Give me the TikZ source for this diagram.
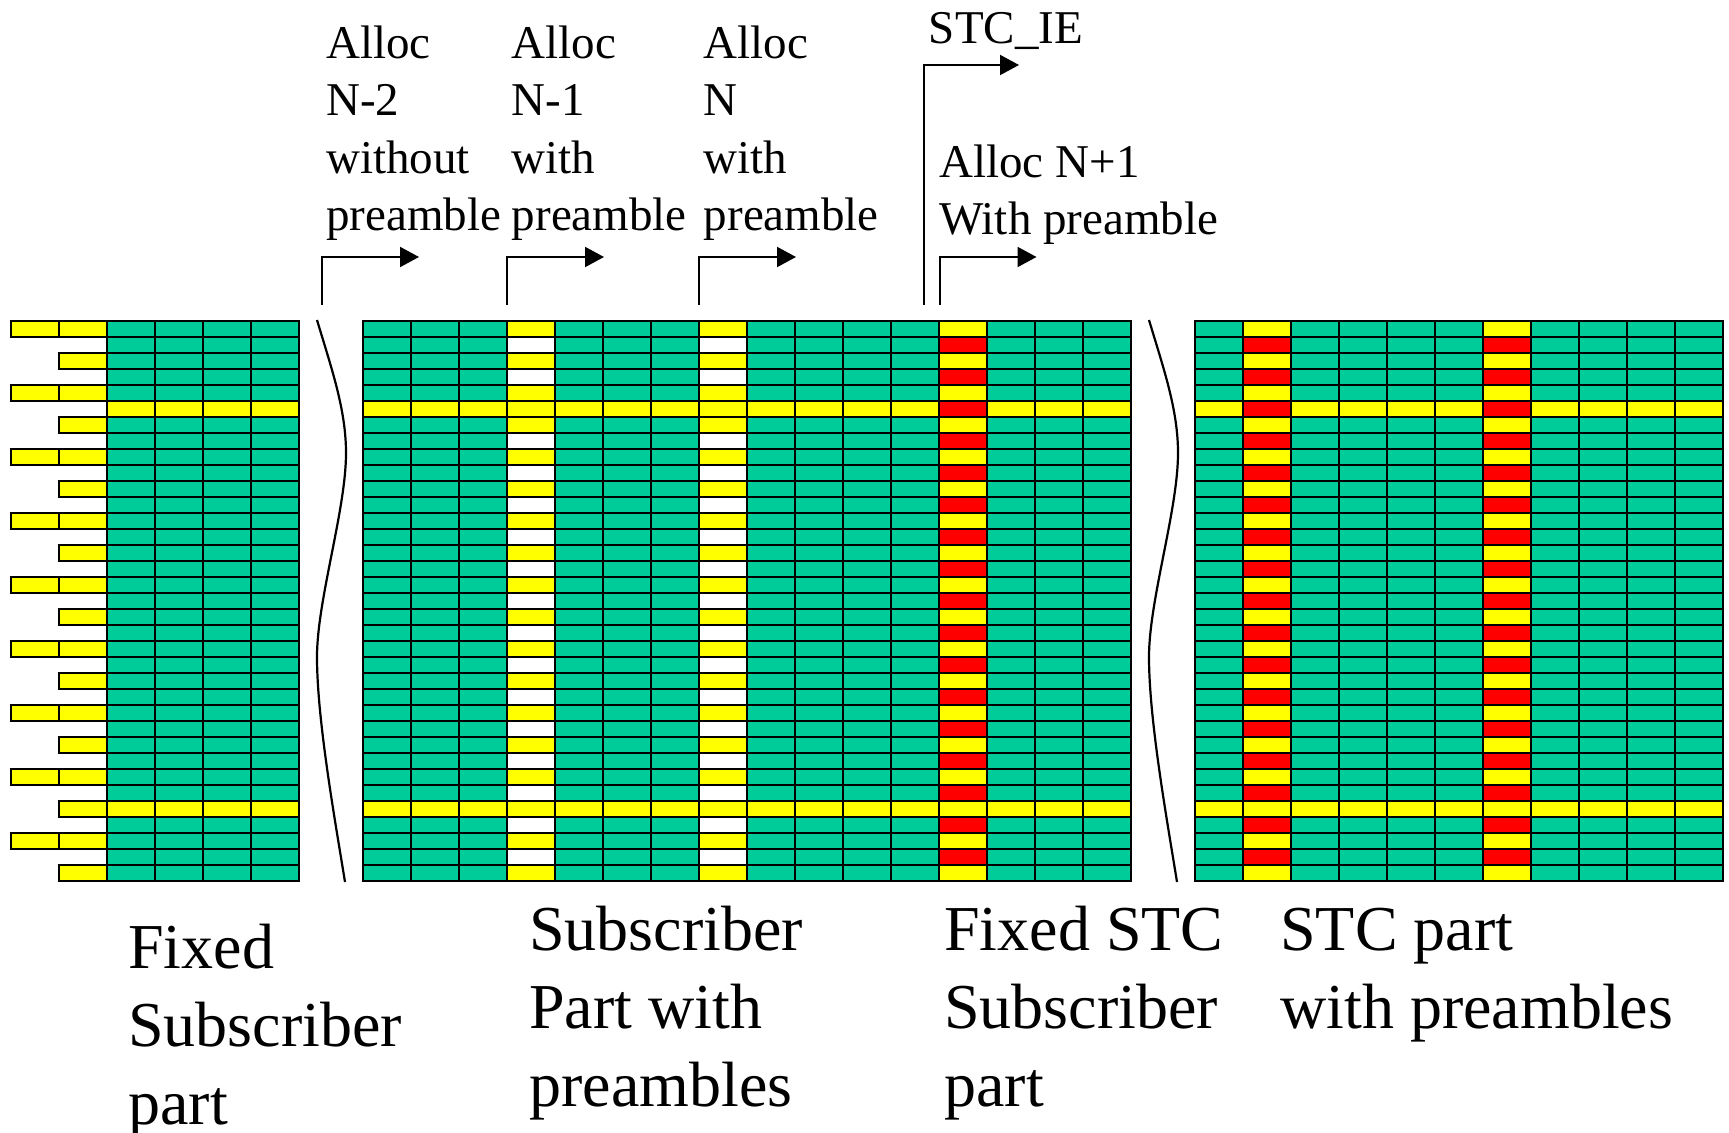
\documentclass[tikz,border=0pt]{standalone}
\usepackage{fontspec}
\setmainfont{Liberation Serif}
\usetikzlibrary{arrows.meta}

\definecolor{slotgreen}{RGB}{0,204,153}
\definecolor{slotred}{RGB}{255,0,0}
\definecolor{slotyellow}{RGB}{255,255,0}

% fill of one slot: #1 column kind (d data, p preamble, s stc), #2 row
\newcommand\slotcolour[2]{%
  \pgfmathtruncatemacro\slotodd{mod(#2,2)}%
  \def\fc{slotgreen}%
  \ifnum#2=5 \def\fc{slotyellow}\fi
  \ifnum#2=30 \def\fc{slotyellow}\fi
  \if#1p\ifnum\slotodd=1 \ifnum#2=5 \else\def\fc{white}\fi\else\def\fc{slotyellow}\fi\fi
  \if#1s\ifnum\slotodd=1 \def\fc{slotred}\else\def\fc{slotyellow}\fi\fi
}

\begin{document}
\begin{tikzpicture}[x=0.5pt, y=-0.5pt,
  slot/.style={draw=black, line width=1.4pt},
  brk/.style={line width=1.1pt},
  bent/.style={line width=1pt, -{Triangle[length=9.5pt, width=10pt]}},
  % multi-line labels sit on the baseline of their last line
  toplabel/.style={anchor=base west, inner sep=0pt, align=left,
    font=\fontsize{23.5}{28.75}\selectfont},
  partlabel/.style={anchor=base west, inner sep=0pt, align=left,
    font=\fontsize{32}{39}\selectfont}]
\useasboundingbox (0,0) rectangle (1729,1133);

% fixed subscriber part
\foreach \c in {2,...,5}
  \foreach \r in {0,...,34} {
    \slotcolour{d}{\r}
    \draw[slot, fill=\fc] (11+48*\c,321+16*\r) rectangle ++(48,16);
  }
\foreach \r in {0,2,...,34}
  \draw[slot, fill=slotyellow] (59,321+16*\r) rectangle ++(48,16);
\foreach \r in {0,4,...,32}
  \draw[slot, fill=slotyellow] (11,321+16*\r) rectangle ++(48,16);

% subscriber part and fixed STC part
\foreach \c/\k in {0/d,1/d,2/d,3/p,4/d,5/d,6/d,7/p,8/d,9/d,10/d,11/d,12/s,13/d,14/d,15/d}
  \foreach \r in {0,...,34} {
    \slotcolour{\k}{\r}
    \draw[slot, fill=\fc] (363+48*\c,321+16*\r) rectangle ++(48,16);
  }

% STC part
\foreach \c/\k in {0/d,1/s,2/d,3/d,4/d,5/d,6/s,7/d,8/d,9/d,10/d}
  \foreach \r in {0,...,34} {
    \slotcolour{\k}{\r}
    \draw[slot, fill=\fc] (1195+48*\c,321+16*\r) rectangle ++(48,16);
  }

% breaks
\foreach \dx in {0,832}
  \draw[brk, shift={(\dx,0)}] (317,320) .. controls (332,370) and (346,410) .. (346,453)
    .. controls (346,510) and (317,600) .. (317,657)
    .. controls (317,720) and (335,820) .. (345,882);

% allocation starts
\coordinate (markNm2) at (322,305);
\coordinate (markNm1) at (507,305);
\coordinate (markN) at (699,305);
\coordinate (markIE) at (924,305);
\coordinate (markNp1) at (939.5,305);
\draw[bent] (markNm2) -- ++(0,-48) -- ++(97,0);
\draw[bent] (markNm1) -- ++(0,-48) -- ++(97,0);
\draw[bent] (markN) -- ++(0,-48) -- ++(97,0);
\draw[bent] (markIE) -- ++(0,-240) -- ++(95,0);
\draw[bent] (markNp1) -- ++(0,-48) -- ++(97,0);

\node[toplabel] (labNm2) at (326,231) {Alloc\\N-2\\without\\preamble};
\node[toplabel] (labNm1) at (511.5,231) {Alloc\\N-1\\with\\preamble};
\node[toplabel] (labN) at (703.5,231) {Alloc\\N\\with\\preamble};
\node[toplabel] (labIE) at (928.5,44) {STC\_IE};
\node[toplabel] (labNp1) at (939,235) {Alloc N+1\\With preamble};

\node[partlabel] (labFixed) at (128,1124) {Fixed\\Subscriber\\part};
\node[partlabel] (labSub) at (529,1106.5) {Subscriber\\Part with\\preambles};
\node[partlabel] (labFixedStc) at (944,1106.5) {Fixed STC\\Subscriber\\part};
\node[partlabel] (labStc) at (1280,1028.5) {STC part\\with preambles};
\end{tikzpicture}
\end{document}
